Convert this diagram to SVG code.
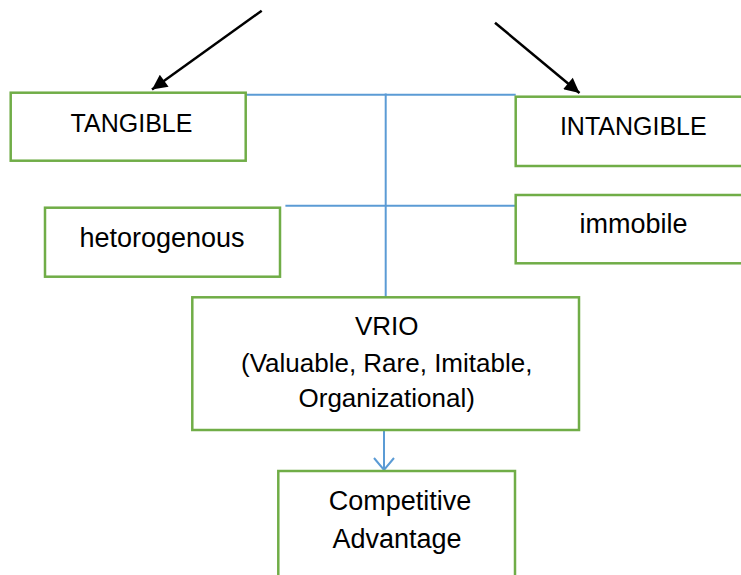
<svg xmlns="http://www.w3.org/2000/svg" width="741" height="575" viewBox="0 0 741 575">
<defs>
<style>
.box{fill:#fff;stroke:#70AD47;stroke-width:2.5}
.t{font-family:"Liberation Sans",Arial,sans-serif;fill:#000;text-anchor:middle}
.caps{font-size:25px}
.low{font-size:27px}
.vr{font-size:26px}
.blue{stroke:#5B9BD5;stroke-width:2;fill:none}
.blk{stroke:#000;stroke-width:2.5;fill:none}
</style>
<marker id="ah" viewBox="0 0 10 10" refX="10" refY="5" markerWidth="7" markerHeight="6" markerUnits="strokeWidth" orient="auto">
<path d="M0,0 L10,5 L0,10 z" fill="#000"/>
</marker>
</defs>
<rect width="741" height="575" fill="#fff"/>
<g id="connectors">
<line class="blue" x1="245.7" y1="94.7" x2="515.7" y2="94.7"/>
<line class="blue" x1="285.4" y1="205.7" x2="531.7" y2="205.7"/>
<line class="blue" x1="385.7" y1="93.5" x2="385.7" y2="297"/>
<line class="blk" x1="261.7" y1="10.7" x2="152" y2="89.5" marker-end="url(#ah)"/>
<line class="blk" x1="495" y1="22.7" x2="579.5" y2="93" marker-end="url(#ah)"/>
<line class="blue" x1="384" y1="430" x2="384" y2="470"/>
<path class="blue" d="M374,458 L384,470 L394,458"/>
</g>
<g id="tangible">
<rect class="box" x="10.7" y="92.7" width="235" height="68"/>
<text class="t caps" x="131.5" y="131.7">TANGIBLE</text>
</g>
<g id="intangible">
<rect class="box" x="515.7" y="96.7" width="240" height="69.3"/>
<text class="t caps" x="633.3" y="135">INTANGIBLE</text>
</g>
<g id="hetorogenous">
<rect class="box" x="45" y="207.7" width="235" height="69"/>
<text class="t low" x="162" y="246.7">hetorogenous</text>
</g>
<g id="immobile">
<rect class="box" x="515.7" y="195" width="240" height="68.3"/>
<text class="t low" x="633.5" y="232.7">immobile</text>
</g>
<g id="vrio">
<rect class="box" x="192.3" y="297.3" width="386.7" height="132.7"/>
<text class="t vr" x="386.7" y="335">VRIO</text>
<text class="t vr" x="386.7" y="371.7">(Valuable, Rare, Imitable,</text>
<text class="t vr" x="386.7" y="406.7">Organizational)</text>
</g>
<g id="competitive">
<rect class="box" x="278.3" y="471" width="236.7" height="120"/>
<text class="t low" x="400" y="510">Competitive</text>
<text class="t low" x="397" y="548">Advantage</text>
</g>
</svg>
